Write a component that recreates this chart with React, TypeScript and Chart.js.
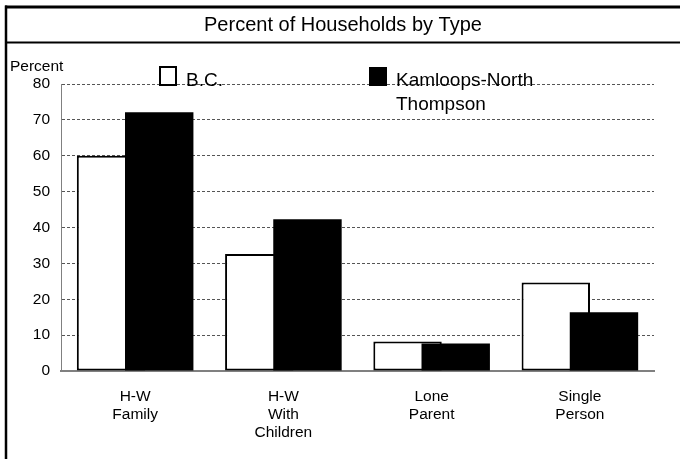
import React, { useEffect, useRef } from "react";
import { Chart, registerables } from "chart.js";

Chart.register(...registerables);

const categories: string[][] = [
  ["H-W", "Family"],
  ["H-W", "With", "Children"],
  ["Lone", "Parent"],
  ["Single", "Person"],
];
const bcValues = [60, 32.6, 8.2, 24.7];
const kamloopsValues = [72.1, 42.3, 7.7, 16.4];
const yTicks = [0, 10, 20, 30, 40, 50, 60, 70, 80];
const seriesNames = ["B.C.", ["Kamloops-North", "Thompson"]];
const chartTitle = "Percent of Households by Type";
const yAxisTitle = "Percent";

const FONT = "'Liberation Sans', Arial, sans-serif";

const framePlugin = {
  id: "frame",
  beforeDatasetsDraw(chart: any) {
    // draw datasets in forward order so the second series sits on top
    const metas = chart.getSortedVisibleDatasetMetas();
    const ctx = chart.ctx;
    const area = chart.chartArea;
    ctx.save();
    ctx.beginPath();
    ctx.rect(area.left, area.top - 2, area.right - area.left, area.bottom - area.top + 4);
    ctx.clip();
    for (const m of metas) m.controller.draw();
    ctx.restore();
    return false;
  },
  afterDraw(chart: any) {
    const ctx = chart.ctx;
    ctx.save();
    // frame
    ctx.strokeStyle = "#000";
    ctx.lineWidth = 3;
    ctx.beginPath();
    ctx.moveTo(5, 7);
    ctx.lineTo(680, 7);
    ctx.stroke();
    ctx.lineWidth = 2;
    ctx.beginPath();
    ctx.moveTo(5, 42.5);
    ctx.lineTo(680, 42.5);
    ctx.stroke();
    ctx.lineWidth = 2.5;
    ctx.beginPath();
    ctx.moveTo(6, 5.5);
    ctx.lineTo(6, 459);
    ctx.stroke();
    // title
    ctx.fillStyle = "#000";
    ctx.font = `20px ${FONT}`;
    ctx.textAlign = "center";
    ctx.textBaseline = "middle";
    ctx.fillText(chartTitle, 343, 25);
    // y axis title
    ctx.font = `15.5px ${FONT}`;
    ctx.textAlign = "left";
    ctx.fillText(yAxisTitle, 10, 67);
    // legend
    ctx.lineWidth = 2;
    ctx.fillStyle = "#fff";
    ctx.fillRect(160, 67, 16, 18);
    ctx.strokeRect(160, 67, 16, 18);
    ctx.fillStyle = "#000";
    ctx.fillRect(369, 67, 18, 19);
    ctx.font = `19px ${FONT}`;
    ctx.textBaseline = "alphabetic";
    ctx.fillText(seriesNames[0] as string, 186, 86);
    const k = seriesNames[1] as string[];
    ctx.fillText(k[0], 396, 86);
    ctx.fillText(k[1], 396, 110);
    ctx.restore();
  },
};

export default function App() {
  const ref = useRef<HTMLCanvasElement>(null);
  useEffect(() => {
    const canvas = ref.current!;
    const chart = new Chart(canvas, {
      type: "bar",
      data: {
        labels: categories,
        datasets: [
          {
            label: "B.C.",
            data: bcValues,
            backgroundColor: "#fff",
            borderColor: "#000",
            borderWidth: 2,
            borderSkipped: false,
            categoryPercentage: 0.65,
            barPercentage: 1.42,
          },
          {
            label: "Kamloops-North Thompson",
            data: kamloopsValues,
            backgroundColor: "#000",
            borderWidth: 0,
            categoryPercentage: 0.65,
            barPercentage: 1.42,
          },
        ],
      },
      options: {
        responsive: false,
        animation: false,
        devicePixelRatio: 1,
        layout: { padding: { top: 84, right: 26, bottom: 0, left: 0 } },
        plugins: {
          legend: { display: false },
          title: { display: false },
          tooltip: { enabled: false },
        },
        scales: {
          x: {
            grid: { display: false, drawTicks: false },
            border: { display: true, color: "#808080", width: 2 },
            ticks: {
              color: "#000",
              font: { family: FONT, size: 15.5, lineHeight: 1.16 },
              padding: 17,
              maxRotation: 0,
              autoSkip: false,
            },
            afterFit: (s: any) => {
              s.height = 88;
            },
          },
          y: {
            min: 0,
            max: 80,
            afterBuildTicks: (s: any) => {
              s.ticks = yTicks.map((v) => ({ value: v }));
            },
            grid: { color: "#555", lineWidth: 1, drawTicks: false },
            border: { display: true, color: "#808080", width: 1, dash: [3, 2] },
            ticks: {
              color: "#000",
              font: { family: FONT, size: 15.5 },
              padding: 11,
            },
            afterFit: (s: any) => {
              s.width = 61;
            },
          },
        },
      },
      plugins: [framePlugin],
    } as any);
    return () => chart.destroy();
  }, []);
  return (
    <div style={{ position: "fixed", left: 0, top: 0, width: 680, height: 459, background: "#fff" }}>
      <canvas ref={ref} width={680} height={459} style={{ width: 680, height: 459, display: "block" }} />
    </div>
  );
}
